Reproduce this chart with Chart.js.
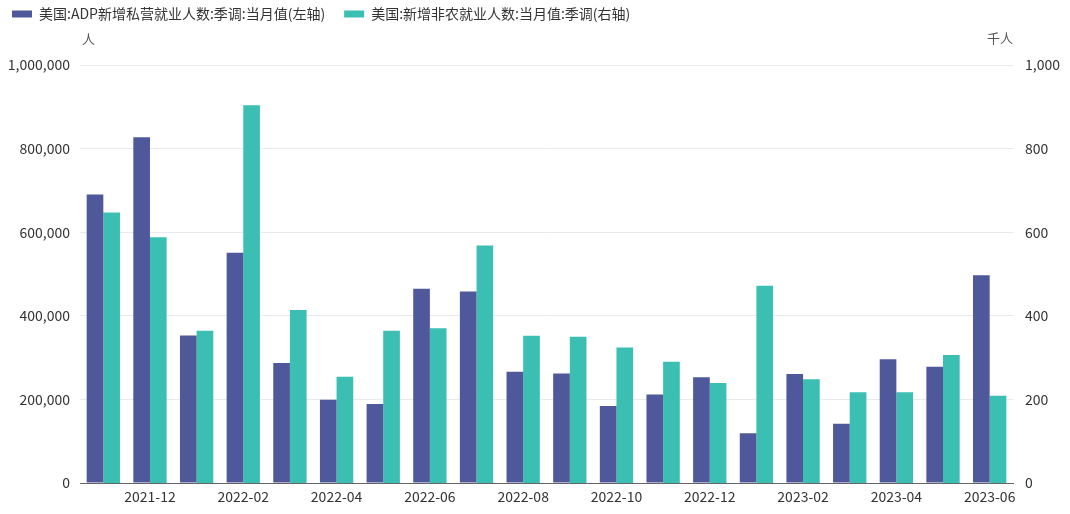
<!DOCTYPE html>
<html>
<head>
<meta charset="utf-8">
<script src="https://cdn.jsdelivr.net/npm/chart.js@4.4.0/dist/chart.umd.min.js"></script>
<style>
  html, body { margin: 0; padding: 0; background: #ffffff; }
  #wrap { width: 1070px; height: 514px; position: relative; }
</style>
</head>
<body>
<div id="wrap"><canvas id="c" width="1070" height="514"></canvas></div>
<script>
// ---- data ----
const categories = ['2021-11','2021-12','2022-01','2022-02','2022-03','2022-04','2022-05','2022-06','2022-07','2022-08',
                    '2022-09','2022-10','2022-11','2022-12','2023-01','2023-02','2023-03','2023-04','2023-05','2023-06'];
const adpValues = [690000, 827000, 353000, 551000, 287000, 199000, 189000, 465000, 458000, 266000,
                   262000, 184000, 212000, 253000, 119000, 261000, 142000, 296000, 278000, 497000];
const nfpValues = [647, 588, 364, 904, 414, 254, 364, 370, 568, 352,
                   350, 324, 290, 239, 472, 248, 217, 217, 306, 209];
const seriesNames = ['美国:ADP新增私营就业人数:季调:当月值(左轴)', '美国:新增非农就业人数:当月值:季调(右轴)'];
const leftUnit = '人';
const rightUnit = '千人';
const leftTicks = [0, 200000, 400000, 600000, 800000, 1000000];
const rightTicks = [0, 200, 400, 600, 800, 1000];

const FONT = '"Noto Sans CJK SC", "Noto Sans", sans-serif';
const TXT = '#333333';

const legendSpace = {
  id: 'legendSpace',
  beforeLayout(chart) {
    const lg = chart.legend;
    if (lg && !lg.__patched) {
      const orig = lg.fit;
      lg.fit = function () { orig.call(this); this.height = 77; };
      lg.__patched = true;
    }
  }
};

const unitLabels = {
  id: 'unitLabels',
  afterDraw(chart) {
    const { ctx, chartArea } = chart;
    ctx.save();
    ctx.font = '13px ' + FONT;
    ctx.fillStyle = '#555555';
    ctx.textBaseline = 'middle';
    ctx.textAlign = 'left';
    ctx.fillText(leftUnit, chartArea.left + 2, chartArea.top - 26);
    ctx.textAlign = 'right';
    ctx.fillText(rightUnit, chartArea.right, chartArea.top - 27);
    ctx.restore();
  }
};

new Chart(document.getElementById('c'), {
  type: 'bar',
  data: {
    labels: categories,
    datasets: [
      { label: seriesNames[0], data: adpValues, yAxisID: 'yL', backgroundColor: '#4e589a',
        categoryPercentage: 0.714, barPercentage: 1.0 },
      { label: seriesNames[1], data: nfpValues, yAxisID: 'yR', backgroundColor: '#3cbfb3',
        categoryPercentage: 0.714, barPercentage: 1.0 }
    ]
  },
  options: {
    responsive: false,
    animation: false,
    devicePixelRatio: 1,
    layout: { padding: { top: -12, left: -7, right: 0, bottom: 0 } },
    plugins: {
      legend: {
        display: true,
        position: 'top',
        align: 'start',
        labels: {
          boxWidth: 20,
          boxHeight: 7,
          padding: 19,
          color: TXT,
          font: { family: FONT, size: 14 }
        }
      },
      tooltip: { enabled: false }
    },
    scales: {
      x: {
        grid: { display: false, drawTicks: false },
        border: { display: true, color: '#666666', width: 1 },
        ticks: {
          autoSkip: false,
          maxRotation: 0,
          minRotation: 0,
          padding: 5,
          color: TXT,
          font: { family: FONT, size: 14 },
          callback: function (v, i) { return i % 2 === 1 ? categories[i] : ''; }
        },
        afterFit(s) { s.height = 31; }
      },
      yL: {
        position: 'left',
        min: 0, max: 1000000,
        afterBuildTicks(s) { s.ticks = leftTicks.map(v => ({ value: v })); },
        grid: { color: '#e9e9ee', drawTicks: false },
        border: { display: false },
        ticks: {
          padding: 10,
          color: TXT,
          font: { family: FONT, size: 14 },
          callback: v => Number(v).toLocaleString('en-US')
        },
        afterFit(s) { s.width = 87; }
      },
      yR: {
        position: 'right',
        min: 0, max: 1000,
        afterBuildTicks(s) { s.ticks = rightTicks.map(v => ({ value: v })); },
        grid: { display: false, drawTicks: false },
        border: { display: false },
        ticks: {
          padding: 12,
          color: TXT,
          font: { family: FONT, size: 14 },
          callback: v => Number(v).toLocaleString('en-US')
        },
        afterFit(s) { s.width = 57; }
      }
    }
  },
  plugins: [legendSpace, unitLabels]
});
</script>
</body>
</html>
